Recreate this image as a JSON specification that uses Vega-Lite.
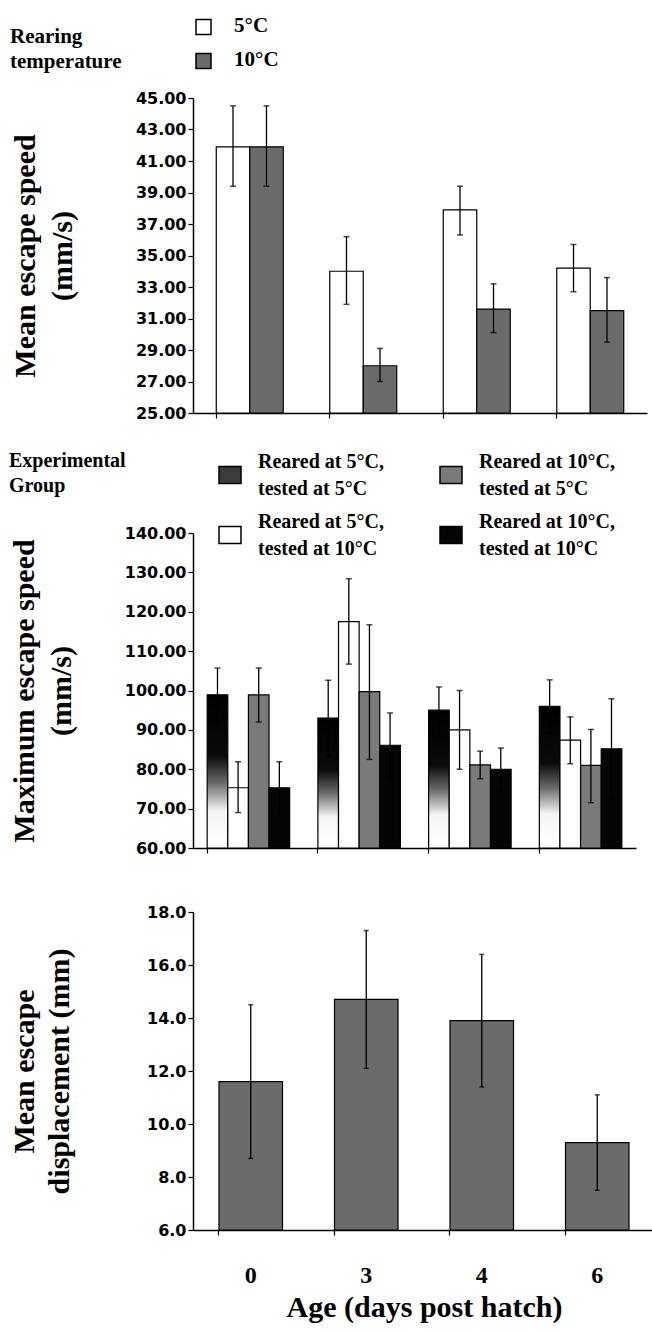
{
  "$schema": "https://vega.github.io/schema/vega-lite/v6.json",
  "padding": {"left": 9, "top": 4, "right": 0, "bottom": 4},
  "spacing": 30,
  "resolve": {"scale": {"x": "independent", "xOffset": "independent", "fill": "independent", "y": "independent"}, "legend": {"fill": "independent"}},
  "config": {
    "view": {"stroke": null},
    "font": "Liberation Serif",
    "style": {"guide-label": {"lineHeight": 27}},
    "axis": {
      "domainColor": "#000", "domainWidth": 1.5, "tickColor": "#000", "tickWidth": 1.2, "grid": false,
      "labelFont": "DejaVu Sans", "labelFontWeight": "bold", "labelFontSize": 16, "labelColor": "#000", "labelLineHeight": 16, "labelOverlap": false,
      "titleFont": "Liberation Serif", "titleFontWeight": "bold", "titleFontSize": 30, "titleColor": "#000", "titleLineHeight": 37
    },
    "legend": {
      "labelFont": "Liberation Serif", "labelFontWeight": "bold", "titleFont": "Liberation Serif", "titleFontWeight": "bold",
      "labelColor": "#000", "titleColor": "#000", "padding": 0, "titleLimit": 300, "labelLimit": 300
    }
  },
  "datasets": {
    "speed": [
      {"age": "0", "temp": "5°C", "mean": 41.9, "lo": 39.4, "hi": 44.5},
      {"age": "0", "temp": "10°C", "mean": 41.9, "lo": 39.4, "hi": 44.5},
      {"age": "3", "temp": "5°C", "mean": 34.0, "lo": 31.9, "hi": 36.2},
      {"age": "3", "temp": "10°C", "mean": 28.0, "lo": 27.0, "hi": 29.1},
      {"age": "4", "temp": "5°C", "mean": 37.9, "lo": 36.3, "hi": 39.4},
      {"age": "4", "temp": "10°C", "mean": 31.6, "lo": 30.1, "hi": 33.2},
      {"age": "6", "temp": "5°C", "mean": 34.2, "lo": 32.7, "hi": 35.7},
      {"age": "6", "temp": "10°C", "mean": 31.5, "lo": 29.5, "hi": 33.6}
    ],
    "maxspeed": [
      {"age": "0", "group": "Reared at 5°C, tested at 5°C", "mean": 98.9, "lo": 92.1, "hi": 105.7},
      {"age": "0", "group": "Reared at 5°C, tested at 10°C", "mean": 75.3, "lo": 69.0, "hi": 81.9},
      {"age": "0", "group": "Reared at 10°C, tested at 5°C", "mean": 98.9, "lo": 92.0, "hi": 105.7},
      {"age": "0", "group": "Reared at 10°C, tested at 10°C", "mean": 75.3, "lo": 68.7, "hi": 81.9},
      {"age": "3", "group": "Reared at 5°C, tested at 5°C", "mean": 93.0, "lo": 83.4, "hi": 102.6},
      {"age": "3", "group": "Reared at 5°C, tested at 10°C", "mean": 117.5, "lo": 106.7, "hi": 128.4},
      {"age": "3", "group": "Reared at 10°C, tested at 5°C", "mean": 99.7, "lo": 82.5, "hi": 116.7},
      {"age": "3", "group": "Reared at 10°C, tested at 10°C", "mean": 86.1, "lo": 77.9, "hi": 94.3},
      {"age": "4", "group": "Reared at 5°C, tested at 5°C", "mean": 95.0, "lo": 89.1, "hi": 100.9},
      {"age": "4", "group": "Reared at 5°C, tested at 10°C", "mean": 90.0, "lo": 80.0, "hi": 100.0},
      {"age": "4", "group": "Reared at 10°C, tested at 5°C", "mean": 81.1, "lo": 77.6, "hi": 84.6},
      {"age": "4", "group": "Reared at 10°C, tested at 10°C", "mean": 80.0, "lo": 74.6, "hi": 85.4},
      {"age": "6", "group": "Reared at 5°C, tested at 5°C", "mean": 96.0, "lo": 89.2, "hi": 102.7},
      {"age": "6", "group": "Reared at 5°C, tested at 10°C", "mean": 87.4, "lo": 81.4, "hi": 93.3},
      {"age": "6", "group": "Reared at 10°C, tested at 5°C", "mean": 81.0, "lo": 71.5, "hi": 90.1},
      {"age": "6", "group": "Reared at 10°C, tested at 10°C", "mean": 85.2, "lo": 72.5, "hi": 97.9}
    ],
    "disp": [
      {"age": "0", "mean": 11.6, "lo": 8.7, "hi": 14.5},
      {"age": "3", "mean": 14.7, "lo": 12.1, "hi": 17.3},
      {"age": "4", "mean": 13.9, "lo": 11.4, "hi": 16.4},
      {"age": "6", "mean": 9.3, "lo": 7.5, "hi": 11.1}
    ]
  },
  "vconcat": [
    {
      "width": 454, "height": 315,
      "data": {"name": "speed"},
      "encoding": {
        "x": {"field": "age", "type": "ordinal", "sort": ["0", "3", "4", "6"],
              "scale": {"paddingInner": 0.41, "paddingOuter": 0.205},
              "axis": {"labels": false, "title": null, "bandPosition": 0, "tickSize": 5}},
        "xOffset": {"field": "temp", "type": "nominal", "sort": ["5°C", "10°C"], "scale": {"paddingInner": 0, "paddingOuter": 0}}
      },
      "layer": [
        {
          "mark": {"type": "bar", "stroke": "#000", "strokeWidth": 1.2},
          "encoding": {
            "y": {"field": "mean", "type": "quantitative", "scale": {"domain": [25, 45], "nice": false, "zero": false},
                  "axis": {"values": [25, 27, 29, 31, 33, 35, 37, 39, 41, 43, 45], "tickCount": 50, "format": ".2f", "labelOverlap": false,
                           "title": ["Mean escape speed", "(mm/s)"], "tickSize": 5, "titlePadding": 58}},
            "y2": {"datum": 25},
            "fill": {"field": "temp", "type": "nominal",
                     "scale": {"domain": ["5°C", "10°C"], "range": ["#ffffff", "#6b6b6b"]},
                     "legend": {"orient": "none", "legendX": -183, "legendY": -94, "title": ["Rearing", "temperature"],
                                "titleOrient": "left", "titleAnchor": "end", "titleFontSize": 21, "titleLineHeight": 25, "titlePadding": 71,
                                "labelFontSize": 21, "labelBaseline": "top", "symbolType": "M-0.99,0.67H0.99V2.65H-0.99Z", "symbolSize": 230, "symbolStrokeColor": "#000",
                                "symbolStrokeWidth": 1.5, "rowPadding": -2, "labelOffset": 20, "direction": "vertical"}}
          }
        },
        {"mark": {"type": "rule", "color": "#000", "strokeWidth": 1.3},
         "encoding": {"y": {"field": "lo", "type": "quantitative"}, "y2": {"field": "hi"}}},
        {"mark": {"type": "tick", "orient": "horizontal", "color": "#000", "size": 6, "thickness": 1.5},
         "encoding": {"y": {"field": "hi", "type": "quantitative"}}},
        {"mark": {"type": "tick", "orient": "horizontal", "color": "#000", "size": 6, "thickness": 1.5},
         "encoding": {"y": {"field": "lo", "type": "quantitative"}}}
      ]
    },
    {
      "width": 443, "height": 315,
      "data": {"name": "maxspeed"},
      "encoding": {
        "x": {"field": "age", "type": "ordinal", "sort": ["0", "3", "4", "6"],
              "scale": {"paddingInner": 0.255, "paddingOuter": 0.128},
              "axis": {"labels": false, "title": null, "bandPosition": 0, "tickSize": 5, "minExtent": 26}},
        "xOffset": {"field": "group", "type": "nominal",
                    "sort": ["Reared at 5°C, tested at 5°C", "Reared at 5°C, tested at 10°C", "Reared at 10°C, tested at 5°C", "Reared at 10°C, tested at 10°C"],
                    "scale": {"paddingInner": 0, "paddingOuter": 0}}
      },
      "layer": [
        {
          "mark": {"type": "bar", "stroke": "#000", "strokeWidth": 1.2},
          "encoding": {
            "y": {"field": "mean", "type": "quantitative", "scale": {"domain": [60, 140], "nice": false, "zero": false},
                  "axis": {"values": [60, 70, 80, 90, 100, 110, 120, 130, 140], "tickCount": 50, "format": ".2f", "labelOverlap": false,
                           "title": ["Maximum escape speed", "(mm/s)"], "tickSize": 5, "titlePadding": 48}},
            "y2": {"datum": 60},
            "fill": {"field": "group", "type": "nominal",
                     "condition": {"test": "datum.group === 'Reared at 5°C, tested at 5°C'",
                                   "value": {"gradient": "linear", "x1": 0, "y1": 0, "x2": 0, "y2": 1,
                                             "stops": [{"offset": 0, "color": "#000000"}, {"offset": 0.4, "color": "#0a0a0a"}, {"offset": 0.57, "color": "#666666"}, {"offset": 0.76, "color": "#f5f5f5"}, {"offset": 1, "color": "#ffffff"}]}},
                     "scale": {"domain": ["Reared at 5°C, tested at 5°C", "Reared at 5°C, tested at 10°C", "Reared at 10°C, tested at 5°C", "Reared at 10°C, tested at 10°C"],
                               "range": ["#3c3c3c", "#ffffff", "#7a7a7a", "#050505"]},
                     "legend": {"orient": "none", "legendX": -184, "legendY": -82, "title": ["Experimental", "Group"],
                                "titleOrient": "left", "titleAnchor": "start", "titleFontSize": 20, "titleLineHeight": 25, "titlePadding": 93,
                                "labelFontSize": 20, "labelExpr": "[slice(datum.label, 0, indexof(datum.label, ',') + 1), slice(datum.label, indexof(datum.label, ',') + 2)]",
                                "columns": 2, "columnPadding": 53, "rowPadding": 12,
                                "symbolType": "M-1.1,0.45H1.1V2.15H-1.1Z", "symbolSize": 400, "symbolStrokeColor": "#000",
                                "symbolStrokeWidth": 1.5, "labelOffset": 17}}
          }
        },
        {"mark": {"type": "rule", "color": "#000", "strokeWidth": 1.3},
         "encoding": {"y": {"field": "lo", "type": "quantitative"}, "y2": {"field": "hi"}}},
        {"mark": {"type": "tick", "orient": "horizontal", "color": "#000", "size": 6, "thickness": 1.5},
         "encoding": {"y": {"field": "hi", "type": "quantitative"}}},
        {"mark": {"type": "tick", "orient": "horizontal", "color": "#000", "size": 6, "thickness": 1.5},
         "encoding": {"y": {"field": "lo", "type": "quantitative"}}}
      ]
    },
    {
      "width": 462, "height": 318,
      "data": {"name": "disp"},
      "encoding": {
        "x": {"field": "age", "type": "ordinal", "sort": ["0", "3", "4", "6"],
              "scale": {"paddingInner": 0.45, "paddingOuter": 0.225},
              "axis": {"labelAngle": 0, "bandPosition": 0, "tickSize": 5, "labelFont": "Liberation Serif", "labelFontSize": 24, "labelLineHeight": 24,
                       "labelPadding": 28, "title": "Age (days post hatch)", "titlePadding": 5}}
      },
      "layer": [
        {
          "mark": {"type": "bar", "stroke": "#000", "strokeWidth": 1.2, "fill": "#6b6b6b"},
          "encoding": {
            "y": {"field": "mean", "type": "quantitative", "scale": {"domain": [6, 18], "nice": false, "zero": false},
                  "axis": {"values": [6, 8, 10, 12, 14, 16, 18], "tickCount": 50, "format": ".1f", "labelOverlap": false,
                           "title": ["Mean escape", "displacement (mm)"], "titleLineHeight": 35, "tickSize": 5, "titlePadding": 72}},
            "y2": {"datum": 6}
          }
        },
        {"mark": {"type": "rule", "color": "#000", "strokeWidth": 1.3},
         "encoding": {"y": {"field": "lo", "type": "quantitative"}, "y2": {"field": "hi"}}},
        {"mark": {"type": "tick", "orient": "horizontal", "color": "#000", "size": 5, "thickness": 1.5},
         "encoding": {"y": {"field": "hi", "type": "quantitative"}}},
        {"mark": {"type": "tick", "orient": "horizontal", "color": "#000", "size": 5, "thickness": 1.5},
         "encoding": {"y": {"field": "lo", "type": "quantitative"}}}
      ]
    }
  ]
}
